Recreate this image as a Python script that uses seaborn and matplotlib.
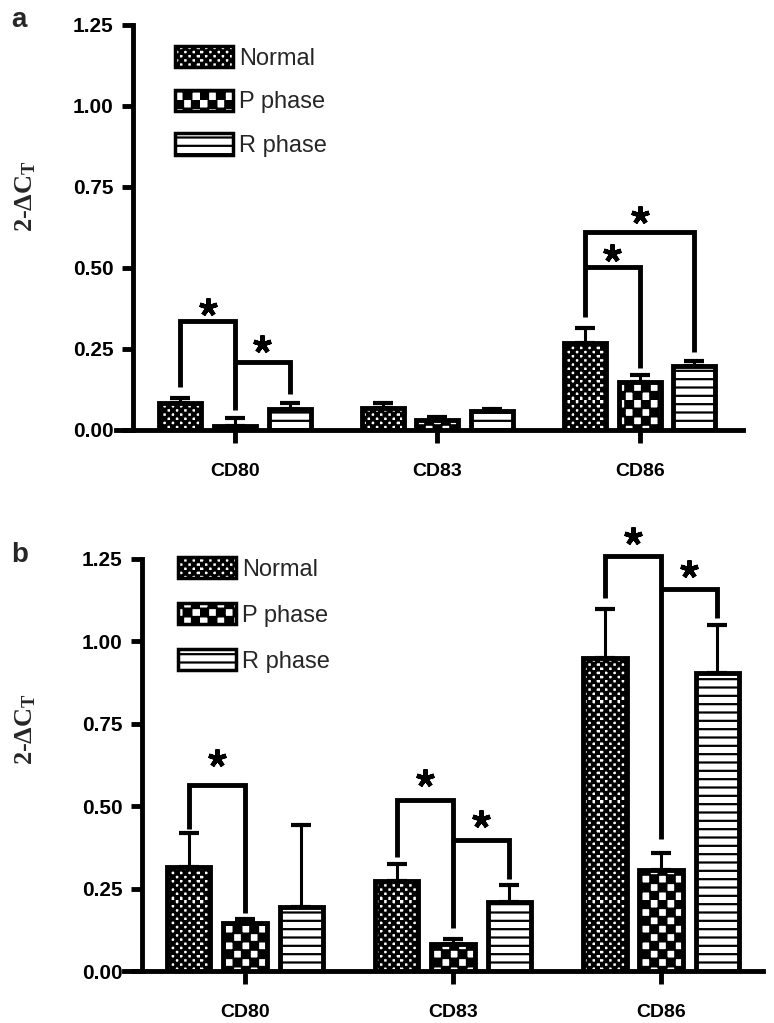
import warnings
import numpy as np
import pandas as pd
import matplotlib
matplotlib.use("Agg")
import matplotlib.pyplot as plt
import matplotlib.hatch as mhatch
from matplotlib.path import Path
from matplotlib.patches import Patch
import seaborn as sns

warnings.filterwarnings("ignore")

genes = ["CD80", "CD83", "CD86"]
phases = ["Normal", "P phase", "R phase"]

# panel a: means and upper error (SD)
a_normal = [0.084, 0.068, 0.268]
a_p = [0.012, 0.030, 0.148]
a_r = [0.066, 0.059, 0.198]
a_normal_err = [0.016, 0.016, 0.047]
a_p_err = [0.025, 0.010, 0.022]
a_r_err = [0.017, 0.005, 0.015]

# panel b
b_normal = [0.315, 0.273, 0.948]
b_p = [0.145, 0.082, 0.306]
b_r = [0.194, 0.209, 0.903]
b_normal_err = [0.103, 0.051, 0.149]
b_p_err = [0.012, 0.015, 0.051]
b_r_err = [0.248, 0.051, 0.147]

# significance brackets: (gene, phase from, phase to)
a_pairs = [(0, 0, 1), (0, 1, 2), (2, 0, 2), (2, 0, 1)]
a_tops = [0.335, 0.21, 0.611, 0.503]
a_left_ends = [0.134, 0.21, 0.349, 0.503]
a_right_ends = [0.062, 0.11, 0.241, 0.19]
a_star_y = [0.38, 0.265, 0.664, 0.546]

b_pairs = [(0, 0, 1), (1, 0, 1), (1, 1, 2), (2, 0, 1), (2, 1, 2)]
b_tops = [0.563, 0.518, 0.397, 1.26, 1.16]
b_left_ends = [0.43, 0.345, 0.397, 1.13, 1.16]
b_right_ends = [0.175, 0.13, 0.28, 0.40, 1.07]
b_star_y = [0.645, 0.585, 0.46, 1.32, 1.22]

yticks = [0, 0.25, 0.5, 0.75, 1.0, 1.25]
hatches = ["cccccc", "ccc", "--"]


# checkerboard hatch, number of 'c' sets the cell count per tile
class CheckerHatch(mhatch.HatchPatternBase):
    def __init__(self, hatch, density):
        self.n = 4 * hatch.count("c")
        self.num_vertices = 5 * (self.n * self.n // 2)

    def set_vertices_and_codes(self, vertices, codes):
        s = 1.0 / self.n
        pad = 0.003
        k = 0
        for i in range(self.n):
            for j in range(self.n):
                if (i + j) % 2:
                    continue
                x0, y0 = i * s + pad, j * s + pad
                x1, y1 = (i + 1) * s - pad, (j + 1) * s - pad
                vertices[k:k + 5] = [(x0, y0), (x1, y0), (x1, y1), (x0, y1), (x0, y0)]
                codes[k:k + 5] = [Path.MOVETO, Path.LINETO, Path.LINETO,
                                  Path.LINETO, Path.CLOSEPOLY]
                k += 5


mhatch._hatch_types.append(CheckerHatch)

sns.set_theme(style="ticks")
plt.rcParams["font.family"] = ["Liberation Sans", "DejaVu Sans"]
plt.rcParams["hatch.linewidth"] = 1.6
plt.rcParams["hatch.color"] = "black"


def draw_panel(ax, means, errs, pairs, tops, left_ends, right_ends, star_y,
               ylim_top, xlim, legend_xy, legend_spacing):
    df = pd.DataFrame({
        "gene": genes * 3,
        "phase": np.repeat(phases, 3),
        "value": np.concatenate(means),
    })
    sns.barplot(data=df, x="gene", y="value", hue="phase", order=genes,
                hue_order=phases, palette=["white"] * 3, width=0.81, gap=0.23,
                errorbar=None, edgecolor="black", linewidth=3.5, legend=False,
                ax=ax)

    bar_groups = list(ax.containers)[:3]
    centers = np.zeros((3, 3))
    for h, cont in enumerate(bar_groups):
        for g, bar in enumerate(cont):
            bar.set_hatch(hatches[h])
            bar.set_zorder(3)
            centers[h, g] = bar.get_x() + bar.get_width() / 2
    for h in range(3):
        ax.errorbar(centers[h], means[h], yerr=[np.zeros(3), errs[h]],
                    fmt="none", ecolor="black", elinewidth=2.2, capsize=7.5,
                    capthick=3, zorder=2)

    for (g, h1, h2), top, yl, yr, sy in zip(pairs, tops, left_ends, right_ends, star_y):
        x1, x2 = centers[h1, g], centers[h2, g]
        ax.plot([x1, x1, x2, x2], [yl, top, top, yr], color="black", lw=3.5,
                solid_joinstyle="miter", solid_capstyle="butt", clip_on=False,
                zorder=4)
        ax.plot((x1 + x2) / 2, sy, marker=(5, 2, 0), ms=13, mew=3.2,
                color="black", clip_on=False, zorder=4)

    ax.set_xlim(*xlim)
    ax.set_ylim(0, ylim_top)
    ax.set_yticks(yticks)
    ax.set_yticklabels([f"{v:.2f}" for v in yticks], fontsize=15,
                       fontweight="bold")
    ax.set_xticks(range(3))
    ax.set_xticklabels(genes, fontsize=14, fontweight="bold")
    ax.set_xlabel("")
    ax.set_ylabel("")
    for side in ["top", "right"]:
        ax.spines[side].set_visible(False)
    ax.spines["left"].set_bounds(0, 1.25)
    ax.spines["bottom"].set_bounds(xlim[0] - 0.085, xlim[1])
    for side in ["left", "bottom"]:
        ax.spines[side].set_linewidth(3.5)
        ax.spines[side].set_color("black")
    ax.tick_params(axis="y", length=8, width=3.5, pad=6, colors="black")
    ax.tick_params(axis="x", length=9, width=3.5, pad=15, colors="black")

    handles = [Patch(facecolor="white", edgecolor="black", hatch=hatches[i], lw=2.5)
               for i in range(3)]
    ax.legend(handles, phases, loc="upper left", bbox_to_anchor=legend_xy,
              frameon=False, fontsize=17, handlelength=2.45, handleheight=1.0,
              labelspacing=legend_spacing, handletextpad=0.25, borderpad=0,
              borderaxespad=0)


fig = plt.figure(figsize=(7.74, 10.23), dpi=100)
ax_a = fig.add_axes([0.1718, 0.5797, 0.7881, 0.3959])
ax_b = fig.add_axes([0.1835, 0.0508, 0.8023, 0.4409])

draw_panel(ax_a, [a_normal, a_p, a_r], [a_normal_err, a_p_err, a_r_err],
           a_pairs, a_tops, a_left_ends, a_right_ends, a_star_y,
           1.25, (-0.504, 2.51), (0.069, 0.948), 0.85)
draw_panel(ax_b, [b_normal, b_p, b_r], [b_normal_err, b_p_err, b_r_err],
           b_pairs, b_tops, b_left_ends, b_right_ends, b_star_y,
           1.368, (-0.495, 2.49), (0.058, 0.918), 0.95)

ylab = r"2-ΔC$\mathregular{_T}$"
fig.text(0.033, 1 - 232 / 1023, ylab, rotation=90, ha="center", va="bottom",
         fontsize=19, fontweight="bold", family=["Liberation Serif", "DejaVu Serif"])
fig.text(0.033, 1 - 765 / 1023, ylab, rotation=90, ha="center", va="bottom",
         fontsize=19, fontweight="bold", family=["Liberation Serif", "DejaVu Serif"])
fig.text(0.015, 1 - 27 / 1023, "a", fontsize=20, fontweight="bold", va="baseline")
fig.text(0.015, 1 - 562 / 1023, "b", fontsize=20, fontweight="bold", va="baseline")

fig.savefig("out.png", dpi=100)
